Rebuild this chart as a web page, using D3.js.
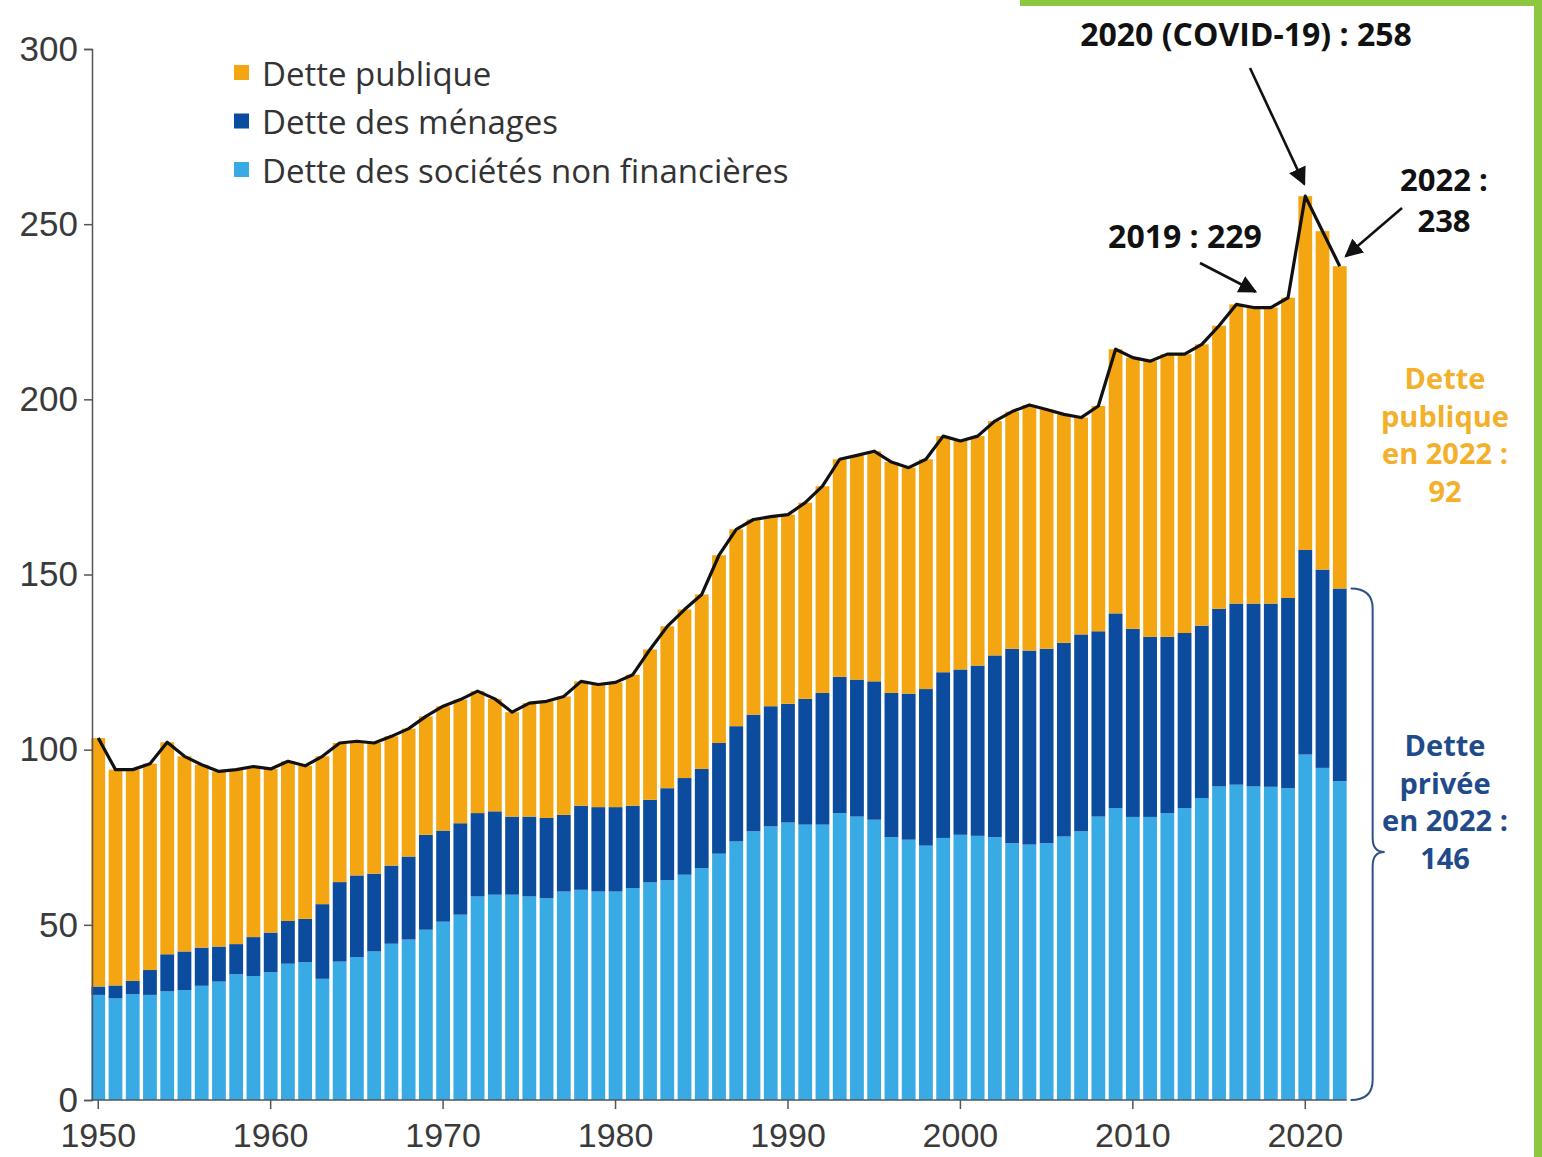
<!DOCTYPE html>
<html>
<head>
<meta charset="utf-8">
<script src="https://cdn.jsdelivr.net/npm/d3@7/dist/d3.min.js"></script>
<style>
  html, body { margin: 0; padding: 0; background: #ffffff; }
  svg { display: block; }
</style>
</head>
<body>
<svg id="chart" width="1542" height="1157"></svg>
<script>
// Dette en % du PIB, France, 1950-2022
const years = [
  1950, 1951, 1952, 1953, 1954, 1955, 1956, 1957, 1958, 1959,
  1960, 1961, 1962, 1963, 1964, 1965, 1966, 1967, 1968, 1969,
  1970, 1971, 1972, 1973, 1974, 1975, 1976, 1977, 1978, 1979,
  1980, 1981, 1982, 1983, 1984, 1985, 1986, 1987, 1988, 1989,
  1990, 1991, 1992, 1993, 1994, 1995, 1996, 1997, 1998, 1999,
  2000, 2001, 2002, 2003, 2004, 2005, 2006, 2007, 2008, 2009,
  2010, 2011, 2012, 2013, 2014, 2015, 2016, 2017, 2018, 2019,
  2020, 2021, 2022
];

// Dette des sociétés non financières
const societes = [
  30.0, 29.0, 30.2, 30.0, 31.0, 31.4, 32.6, 33.8, 35.9, 35.4,
  36.5, 38.9, 39.3, 34.6, 39.5, 40.8, 42.4, 44.6, 45.8, 48.6,
  50.9, 52.9, 58.1, 58.6, 58.6, 58.1, 57.6, 59.5, 60.0, 59.5,
  59.5, 60.5, 62.1, 62.7, 64.3, 66.2, 70.3, 73.8, 76.7, 78.1,
  79.2, 78.6, 78.6, 81.9, 80.9, 80.0, 75.0, 74.3, 72.6, 74.8,
  75.7, 75.4, 75.0, 73.3, 72.9, 73.3, 75.2, 76.7, 80.9, 83.3,
  80.8, 80.8, 81.9, 83.3, 86.2, 89.5, 90.0, 89.5, 89.4, 89.0,
  98.6, 94.8, 91.0
];

// Dette des ménages
const menages = [
  2.4, 3.7, 3.8, 7.1, 10.6, 11.0, 10.9, 10.0, 8.6, 11.1,
  11.3, 12.2, 12.4, 21.3, 22.7, 23.3, 22.2, 22.3, 23.7, 27.1,
  26.0, 26.1, 23.8, 23.8, 22.3, 22.8, 22.9, 21.9, 24.0, 24.1,
  24.1, 23.5, 23.6, 26.3, 27.6, 28.3, 31.6, 32.9, 33.3, 34.3,
  33.9, 35.9, 37.6, 38.9, 39.1, 39.5, 41.2, 41.7, 44.7, 47.3,
  47.2, 48.6, 51.9, 55.5, 55.4, 55.5, 55.3, 56.2, 52.9, 55.6,
  53.7, 51.4, 50.3, 50.0, 49.2, 50.7, 51.7, 52.2, 52.3, 54.3,
  58.4, 56.6, 55.0
];

// Dette publique
const publique = [
  70.9, 61.6, 60.3, 58.9, 60.5, 55.7, 52.2, 50.0, 49.8, 48.7,
  46.7, 45.6, 43.7, 42.2, 39.7, 38.3, 37.3, 36.9, 36.5, 33.8,
  35.5, 35.3, 34.8, 32.1, 29.8, 32.4, 33.3, 33.8, 35.5, 35.0,
  35.6, 37.4, 42.9, 46.2, 48.1, 49.8, 53.6, 56.2, 55.7, 54.1,
  54.0, 56.0, 59.0, 62.1, 64.0, 65.7, 65.9, 64.5, 65.6, 67.4,
  65.2, 65.5, 66.9, 67.7, 70.1, 68.3, 65.2, 61.9, 64.3, 75.4,
  77.4, 78.7, 80.7, 79.6, 80.3, 80.8, 85.4, 84.5, 84.5, 85.7,
  101.0, 96.6, 92.0
];

const seriesKeys = ["societes", "menages", "publique"];
const seriesLabels = ["Dette des sociétés non financières", "Dette des ménages", "Dette publique"];
const seriesColors = ["#38ABE4", "#0B4C9E", "#F3A611"];
const legendOrder = ["publique", "menages", "societes"];

const yTicks = [0, 50, 100, 150, 200, 250, 300];
const xTickYears = [1950, 1960, 1970, 1980, 1990, 2000, 2010, 2020];

// ---- table for the stack ----
const rows = years.map((yr, i) => ({
  year: yr,
  societes: societes[i],
  menages: menages[i],
  publique: publique[i]
}));

const svg = d3.select("#chart");
const W = 1542, H = 1157;

const x = d3.scaleBand()
  .domain(years)
  .range([91, 1347])
  .paddingInner(0.2)
  .paddingOuter(0.02);

const y = d3.scaleLinear()
  .domain([0, 300])
  .range([1100, 49]);

const color = d3.scaleOrdinal().domain(seriesKeys).range(seriesColors);

const stacked = d3.stack().keys(seriesKeys)(rows);

// side decorations
svg.append("rect").attr("x", 1534).attr("y", 0).attr("width", 8).attr("height", H).attr("fill", "#8DC63F");
svg.append("rect").attr("x", 1020).attr("y", 0).attr("width", 522).attr("height", 6).attr("fill", "#8DC63F");

// stacked bars
const gBars = svg.append("g");
gBars.selectAll("g.layer")
  .data(stacked)
  .join("g")
  .attr("class", "layer")
  .attr("fill", d => color(d.key))
  .selectAll("rect")
  .data(d => d)
  .join("rect")
  .attr("x", d => x(d.data.year))
  .attr("width", x.bandwidth())
  .attr("y", d => y(d[1]))
  .attr("height", d => y(d[0]) - y(d[1]));

// total line over the bars
const totals = rows.map(r => ({ year: r.year, total: r.societes + r.menages + r.publique }));
const line = d3.line()
  .x(d => x(d.year) + x.bandwidth() / 2)
  .y(d => y(d.total));
svg.append("path")
  .datum(totals)
  .attr("d", line)
  .attr("fill", "none")
  .attr("stroke", "#111")
  .attr("stroke-width", 3.2)
  .attr("stroke-linejoin", "round");

// axes
const axisFont = "'Liberation Sans', Arial, sans-serif";
const yAxis = svg.append("g")
  .attr("transform", "translate(92,0)")
  .call(d3.axisLeft(y).tickValues(yTicks).tickSize(8).tickPadding(6).tickFormat(d3.format("d")));
yAxis.select(".domain").attr("stroke", "#555").attr("stroke-width", 1.5);
yAxis.selectAll(".tick line").attr("stroke", "#555").attr("stroke-width", 1.5);
yAxis.selectAll(".tick text")
  .attr("font-family", axisFont)
  .attr("font-size", 35)
  .attr("fill", "#3a3a3a");

const xAxis = svg.append("g")
  .attr("transform", "translate(0,1100)");
xAxis.append("line")
  .attr("x1", 91).attr("x2", x(2022) + x.bandwidth())
  .attr("stroke", "#555").attr("stroke-width", 1.5);
xAxis.selectAll("g.tick")
  .data(xTickYears)
  .join("g")
  .attr("class", "tick")
  .attr("transform", d => `translate(${x(d) + x.bandwidth() / 2},0)`)
  .call(g => g.append("line").attr("y2", 9).attr("stroke", "#555").attr("stroke-width", 1.5))
  .call(g => g.append("text")
    .attr("y", 47)
    .attr("text-anchor", "middle")
    .attr("font-family", axisFont)
    .attr("font-size", 34)
    .attr("fill", "#3a3a3a")
    .text(d => d));

// legend
const legendFont = "'Open Sans', 'Noto Sans', sans-serif";
const legend = svg.append("g").attr("transform", "translate(234,73)");
legendOrder.forEach((k, i) => {
  const g = legend.append("g").attr("transform", `translate(0,${i * 48.5})`);
  g.append("rect").attr("x", 0).attr("y", -8).attr("width", 15).attr("height", 15).attr("fill", color(k));
  g.append("text")
    .attr("x", 28).attr("y", 0)
    .attr("dominant-baseline", "central")
    .attr("font-family", legendFont)
    .attr("font-size", 33)
    .attr("fill", "#333")
    .text(seriesLabels[seriesKeys.indexOf(k)]);
});

// annotations
const boldFont = "'Open Sans', 'Noto Sans', sans-serif";
const defs = svg.append("defs");
defs.append("marker")
  .attr("id", "arrowhead")
  .attr("viewBox", "0 0 10 10")
  .attr("refX", 9).attr("refY", 5)
  .attr("markerWidth", 7).attr("markerHeight", 7)
  .attr("markerUnits", "strokeWidth")
  .attr("orient", "auto")
  .append("path").attr("d", "M0,0 L10,5 L0,10 Z").attr("fill", "#111");

const idx = yr => years.indexOf(yr);
const cx = yr => x(yr) + x.bandwidth() / 2;

function note(lines, tx, ty, lh, anchor, fill, size) {
  const t = svg.append("text")
    .attr("font-family", boldFont)
    .attr("font-weight", 700)
    .attr("font-size", size)
    .attr("fill", fill)
    .attr("text-anchor", anchor);
  lines.forEach((s, i) => t.append("tspan").attr("x", tx).attr("y", ty + i * lh).text(s));
}
function arrow(x1, y1, x2, y2) {
  svg.append("line")
    .attr("x1", x1).attr("y1", y1).attr("x2", x2).attr("y2", y2)
    .attr("stroke", "#111").attr("stroke-width", 2.6)
    .attr("marker-end", "url(#arrowhead)");
}

const t2019 = totals[idx(2019)].total;
const t2020 = totals[idx(2020)].total;
const t2022 = totals[idx(2022)].total;
const prive2022 = societes[idx(2022)] + menages[idx(2022)];
const pub2022 = publique[idx(2022)];

note([`2020 (COVID-19) : ${Math.round(t2020)}`], 1246, 46, 0, "middle", "#111", 32);
arrow(1250, 68, cx(2020) - 1, y(t2020) - 12);

note([`2019 : ${Math.round(t2019)}`], 1185, 248, 0, "middle", "#111", 32);
arrow(1200, 263, cx(2017) + 2, y(t2019) - 6);

note(["2022 :", `${Math.round(t2022)}`], 1444, 191, 41, "middle", "#111", 31);
arrow(1402, 208, cx(2022) + 6, y(t2022) - 10);

note(["Dette", "publique", "en 2022 :", `${Math.round(pub2022)}`], 1445, 389, 37.5, "middle", "#F3B02A", 29);
note(["Dette", "privée", "en 2022 :", `${Math.round(prive2022)}`], 1445, 756, 37.5, "middle", "#1F4B8A", 29);

// brace spanning private debt of 2022
const bTop = y(prive2022), bBot = y(0);
const bxL = x(2022) + x.bandwidth() + 4, bxR = bxL + 22, tipX = bxR + 12, tipY = 852;
svg.append("path")
  .attr("d", `M${bxL},${bTop} Q${bxR},${bTop} ${bxR},${bTop + 20}
              L${bxR},${tipY - 14} Q${bxR},${tipY} ${tipX},${tipY}
              Q${bxR},${tipY} ${bxR},${tipY + 14}
              L${bxR},${bBot - 20} Q${bxR},${bBot} ${bxL},${bBot}`)
  .attr("fill", "none")
  .attr("stroke", "#2E5285")
  .attr("stroke-width", 2);
</script>
</body>
</html>
